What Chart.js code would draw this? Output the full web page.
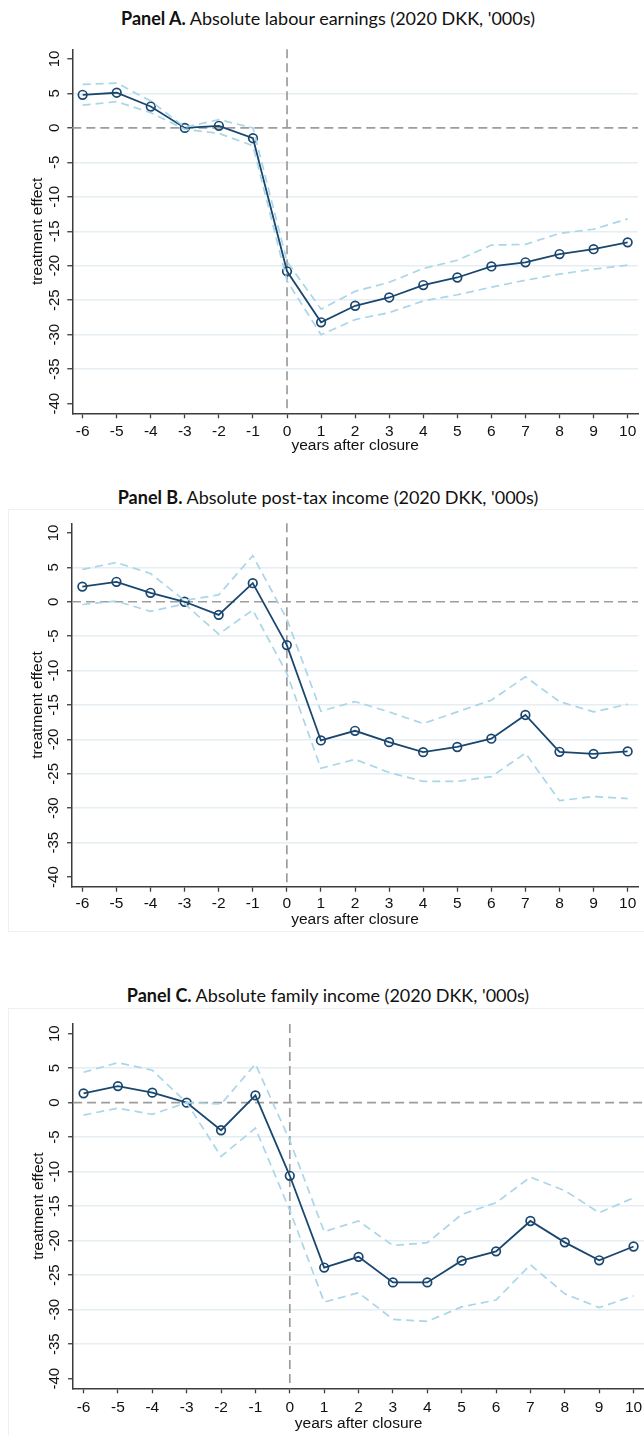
<!DOCTYPE html>
<html>
<head>
<meta charset="utf-8">
<script src="https://cdn.jsdelivr.net/npm/chart.js@4.4.1/dist/chart.umd.min.js"></script>
<style>
  html, body { margin:0; padding:0; background:#fff; }
  body { width:644px; height:1435px; position:relative; overflow:hidden; }
  canvas { position:absolute; left:0; }
  .ttl { position:absolute; left:0; width:656px; text-align:center; font-family:Lato, "Open Sans", sans-serif;
         font-size:18px; line-height:20px; color:#111; white-space:nowrap; }
  .ttl b { font-weight:700; }
  .frame { position:absolute; left:8px; width:700px; border:1px solid #f0f0f0; }
</style>
</head>
<body>
<div class="ttl" style="top:8px"><b>Panel A.</b> Absolute labour earnings (2020 DKK, '000s)</div>
<canvas id="chartA" width="644" height="430" style="top:30px"></canvas>

<div class="frame" style="top:509px;height:421px"></div>
<div class="ttl" style="top:487px"><b>Panel B.</b> Absolute post-tax income (2020 DKK, '000s)</div>
<canvas id="chartB" width="644" height="430" style="top:505px"></canvas>

<div class="frame" style="top:1008px;height:500px"></div>
<div class="ttl" style="top:985px"><b>Panel C.</b> Absolute family income (2020 DKK, '000s)</div>
<canvas id="chartC" width="650" height="430" style="top:1005px"></canvas>

<script>
// event-study estimates, '000 DKK, by years relative to closure
const YEARS = [-6,-5,-4,-3,-2,-1,0,1,2,3,4,5,6,7,8,9,10];
const Y_TICKS = [10,5,0,-5,-10,-15,-20,-25,-30,-35,-40];

const A_EST = [4.8, 5.1, 3.1, 0, 0.3, -1.5, -20.8, -28.2, -25.8, -24.6, -22.8, -21.7, -20.1, -19.5, -18.3, -17.6, -16.6];
const A_HI  = [6.3, 6.5, 3.9, 0.1, 1.2, 0.0, -19.4, -26.3, -23.7, -22.4, -20.4, -19.2, -17.0, -16.9, -15.3, -14.7, -13.2];
const A_LO  = [3.3, 3.8, 2.2, -0.2, -0.8, -2.6, -22.2, -30.0, -27.8, -26.8, -25.1, -24.2, -23.1, -22.1, -21.2, -20.5, -19.9];

const B_EST = [2.2, 2.9, 1.3, 0, -1.9, 2.7, -6.3, -20.15, -18.75, -20.4, -21.85, -21.1, -19.9, -16.45, -21.8, -22.1, -21.75];
const B_HI  = [4.7, 5.7, 4.1, 0.2, 1.0, 6.7, -2.5, -15.9, -14.5, -16.0, -17.7, -16.0, -14.3, -10.9, -14.5, -16.0, -14.9];
const B_LO  = [-0.4, 0.1, -1.4, -0.3, -4.7, -1.2, -10.4, -24.2, -22.9, -24.8, -26.1, -26.1, -25.4, -22.0, -28.9, -28.3, -28.6];

const C_EST = [1.35, 2.4, 1.45, 0, -4.0, 1.05, -10.6, -23.9, -22.35, -26.05, -26.05, -22.9, -21.55, -17.15, -20.25, -22.85, -20.85];
const C_HI  = [4.4, 5.8, 4.7, 0.0, -0.2, 5.6, -5.5, -18.7, -17.15, -20.7, -20.3, -16.2, -14.5, -10.8, -12.75, -15.95, -13.8];
const C_LO  = [-1.8, -0.8, -1.7, 0.0, -7.8, -3.7, -15.6, -28.9, -27.55, -31.4, -31.7, -29.6, -28.6, -23.5, -27.7, -29.7, -28.0];

const REF_X = 0, REF_Y = 0;
const X_MIN = -6.304, X_MAX = 10.304;
const Y_MIN = -41.4, Y_MAX = 11.4;

const NAVY = "#1a476f";
const CI_COL = "#a9d6e8";
const GRID = "#e5eef2";
const AXIS = "#3c3c3c";
const TICK_FONT = { family: '"Liberation Sans", Arial, sans-serif', size: 15.5 };
const Y_TICK_SIZE = 15;

const pts = arr => YEARS.map((x, i) => ({ x, y: arr[i] }));

// dashed reference lines + rotated y labels (Stata style)
const stataBits = {
  id: "stataBits",
  beforeDatasetsDraw(chart){
    const { ctx, chartArea: a, scales: { x, y } } = chart;
    ctx.save();
    ctx.strokeStyle = "#9d9d9d";
    ctx.lineWidth = 1.7;
    ctx.setLineDash([9, 5]);
    const px = x.getPixelForValue(REF_X);
    ctx.beginPath(); ctx.moveTo(px, a.top); ctx.lineTo(px, a.bottom); ctx.stroke();
    const py = y.getPixelForValue(REF_Y);
    ctx.beginPath(); ctx.moveTo(a.left, py); ctx.lineTo(a.right, py); ctx.stroke();
    ctx.restore();
  },
  afterDraw(chart, args, opts){
    const { ctx, scales: { y } } = chart;
    ctx.save();
    ctx.font = `${Y_TICK_SIZE}px ${TICK_FONT.family}`;
    ctx.fillStyle = "#111";
    ctx.textAlign = "center";
    ctx.textBaseline = "middle";
    for (const t of y.ticks){
      ctx.save();
      ctx.translate(opts.labelX, y.getPixelForValue(t.value));
      ctx.rotate(-Math.PI / 2);
      ctx.fillText(String(t.value), 0, 0);
      ctx.restore();
    }
    ctx.restore();
  }
};

function makeChart(id, est, hi, lo, g){
  return new Chart(document.getElementById(id), {
    type: "line",
    data: { datasets: [
      { data: pts(hi), borderColor: CI_COL, borderWidth: 1.7, borderDash: [8, 5], pointRadius: 0, fill: false },
      { data: pts(lo), borderColor: CI_COL, borderWidth: 1.7, borderDash: [8, 5], pointRadius: 0, fill: false },
      { data: pts(est), borderColor: NAVY, borderWidth: 1.8, pointRadius: 4.3, pointBorderWidth: 1.7,
        pointBorderColor: NAVY, pointBackgroundColor: "rgba(0,0,0,0)", fill: false }
    ]},
    options: {
      responsive: false, animation: false, events: [],
      layout: { padding: { top: g.padTop, right: g.padRight, left: 0, bottom: 0 } },
      plugins: { legend: { display: false }, tooltip: { enabled: false }, stataBits: { labelX: g.labelX } },
      scales: {
        x: {
          type: "linear", min: X_MIN, max: X_MAX,
          afterBuildTicks: s => { s.ticks = YEARS.map(v => ({ value: v })); },
          afterFit: s => { s.height = g.xH; },
          grid: { drawOnChartArea: false, drawTicks: true, tickLength: 5, tickColor: AXIS, tickWidth: 1.3 },
          border: { color: AXIS, width: 1.5 },
          ticks: { color: "#111", font: TICK_FONT, padding: g.xTickPad, maxRotation: 0, autoSkip: false,
                   callback: v => String(v) },
          title: { display: true, text: "years after closure", color: "#111",
                   font: { family: TICK_FONT.family, size: 15.5 }, padding: { top: 0, bottom: g.xTitlePad } }
        },
        y: {
          type: "linear", min: Y_MIN, max: Y_MAX,
          afterBuildTicks: s => { s.ticks = Y_TICKS.map(v => ({ value: v })); },
          afterFit: s => { s.width = g.left; },
          grid: {
            color: c => (c.tick && [Y_TICKS[0], Y_TICKS[Y_TICKS.length - 1], REF_Y].includes(c.tick.value)) ? "rgba(0,0,0,0)" : GRID,
            lineWidth: 1.5, drawTicks: true, tickLength: 5, tickColor: AXIS, tickWidth: 1.3
          },
          border: { color: AXIS, width: 1.5 },
          ticks: { display: false },
          title: { display: true, text: "treatment effect", color: "#111",
                   font: { family: TICK_FONT.family, size: 15.5 }, padding: { top: g.yTitlePad, bottom: 0 } }
        }
      }
    },
    plugins: [stataBits]
  });
}

makeChart("chartA", A_EST, A_HI, A_LO, { padTop: 19.3, padRight: 4.3, left: 72.3, xH: 46.7, xTickPad: 4.2, xTitlePad: 4.5, yTitlePad: 28.2, labelX: 54.5 });
makeChart("chartB", B_EST, B_HI, B_LO, { padTop: 18.3, padRight: 4.3, left: 72.0, xH: 48.3, xTickPad: 3.2, xTitlePad: 5.5, yTitlePad: 28.2, labelX: 54.2 });
makeChart("chartC", C_EST, C_HI, C_LO, { padTop: 19.0, padRight: 5.0, left: 73.1, xH: 46.7, xTickPad: 5.2, xTitlePad: 2.0, yTitlePad: 29.0, labelX: 55.3 });
</script>
</body>
</html>
